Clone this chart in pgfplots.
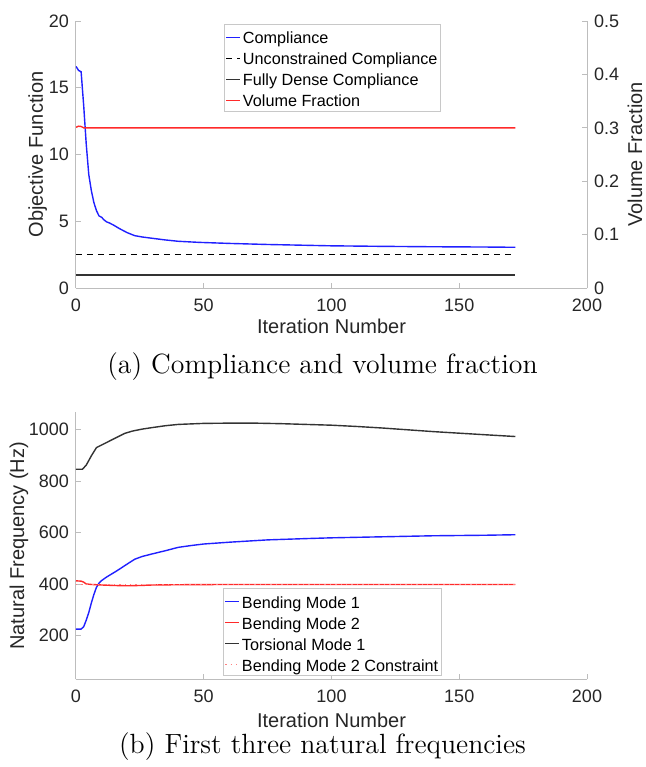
\documentclass[border=0pt]{standalone}
\usepackage{pgfplots}
\pgfplotsset{compat=1.18}
\usepackage{fontspec}
\newfontfamily\arial{Liberation Sans}
\definecolor{axgray}{HTML}{BDBDBD}
\definecolor{tickc}{HTML}{262626}
\definecolor{legc}{HTML}{C8C8C8}
\definecolor{dk}{HTML}{333333}
\definecolor{myred}{HTML}{FF2A2A}
\definecolor{myblue}{HTML}{2020FF}
\definecolor{pink}{HTML}{FF8080}
\pgfplotsset{mat/.style={
  scale only axis, width=255.5pt, height=133.5pt,
  xmin=0, xmax=200, xtick={0,50,100,150,200},
  axis line style={draw=axgray, line width=0.5pt},
  tick style={draw=axgray, line width=0.5pt},
  major tick length=2.6pt,
  tick align=inside,
  /pgf/number format/assume math mode=true,
  /pgf/number format/1000 sep={},
  tick label style={font=\arial\fontsize{9}{10}\selectfont, text=tickc},
  label style={font=\arial\fontsize{10}{12}\selectfont, text=tickc},
  xticklabel style={anchor=center, yshift=-8.5pt},
  axis x line*=bottom, axis y line*=left,
  legend cell align=left,
  legend image code/.code={%
    \path[draw=white, line width=0.1pt] (0pt,0pt) -- (0.05pt,0pt);
    \draw[#1] (0pt,0pt) -- (7pt,0pt);},
  legend style={font=\arial\fontsize{8.1}{10}\selectfont, draw=legc,
    inner xsep=0.5pt, inner ysep=0.3pt, row sep=0pt,
    nodes={inner xsep=1pt, inner ysep=0pt, text height=8.5pt, text depth=2pt}},
}}
\begin{document}
\begin{tikzpicture}
\path[use as bounding box] (0pt,0pt) rectangle (323pt,-383.5pt);
% ---------- (a) ----------
\begin{axis}[mat, at={(38pt,-144pt)}, anchor=south west,
  ymin=0, ymax=20, ytick={0,5,10,15,20},
  xlabel={Iteration Number}, ylabel={Objective Function},
  xlabel style={at={(axis description cs:0.5,-0.1423)}, anchor=center},
  ylabel style={at={(axis description cs:-0.0751,0.5)}, anchor=center, rotate=0},
  legend style={at={(0.290,0.989)}, anchor=north west}]
\addlegendimage{empty legend}
\addlegendentry[text height=0pt, text depth=0pt, inner sep=0pt]{}
\addplot[draw=myblue, line width=0.7pt] coordinates {
(0,16.6) (1,16.3) (2,16.2) (3,13.7) (4,10.8) (5,8.5) (6,7.3) (7,6.4) (8,5.8) (9,5.4)
(10,5.3) (11,5.1) (12,4.95) (13,4.88) (15,4.68) (17,4.45) (20,4.15) (23,3.92) (26,3.82)
(30,3.72) (35,3.6) (40,3.5) (48,3.42) (60,3.34) (75,3.26) (90,3.2) (100,3.16) (120,3.12)
(140,3.09) (160,3.07) (172,3.05)};
\addlegendentry{Compliance}
\addplot[draw=black, line width=0.6pt, dash pattern=on 3pt off 2.5pt] coordinates {(0,2.52) (172,2.52)};
\addlegendentry{Unconstrained Compliance}
\addplot[draw=dk, line width=0.7pt] coordinates {(0,0.98) (172,0.98)};
\addlegendentry{Fully Dense Compliance}
\addlegendimage{draw=myred, line width=0.7pt}
\addlegendentry{Volume Fraction}
\end{axis}
\begin{axis}[mat, at={(38pt,-144pt)}, anchor=south west,
  axis x line=none, axis y line*=right,
  ymin=0, ymax=0.5, ytick={0,0.1,0.2,0.3,0.4,0.5},
  ylabel={Volume Fraction},
  ylabel style={at={(axis description cs:1.0939,0.5)}, anchor=center, rotate=0}]
\addplot[draw=myred, line width=0.7pt] coordinates {
(0,0.301) (0.5,0.302) (1,0.303) (2,0.3025) (3,0.3) (10,0.3) (50,0.3) (100,0.3) (150,0.3) (172,0.3)};
\end{axis}
\node[font=\fontsize{13.9}{16}\selectfont, anchor=base] at (161.25pt,-186.5pt) {(a) Compliance and volume fraction};
% ---------- (b) ----------
\begin{axis}[mat, at={(38pt,-339.65pt)}, anchor=south west,
  ymin=31, ymax=1067, ytick={200,400,600,800,1000},
  xlabel={Iteration Number}, ylabel={Natural Frequency (Hz)},
  xlabel style={at={(axis description cs:0.5,-0.1536)}, anchor=center},
  ylabel style={at={(axis description cs:-0.1115,0.5)}, anchor=center, rotate=0},
  legend style={at={(0.288,0.012)}, anchor=south west}]
\addlegendimage{empty legend}
\addlegendentry[text height=0pt, text depth=0pt, inner sep=0pt]{}
\addplot[draw=myblue, line width=0.7pt] coordinates {
(0,226) (2,226) (3,235) (4,260) (5,290) (6,327) (7,360) (8,388) (9,404) (10,414) (12,428)
(14,440) (16,452) (18,465) (20,478) (23,497) (26,508) (30,518) (35,530) (40,543) (45,550)
(50,556) (60,563) (75,572) (90,577) (100,580) (120,584) (140,588) (160,590) (172,592)};
\addlegendentry{Bending Mode 1}
\addplot[draw=myred, line width=0.7pt] coordinates {
(0,413) (2,412) (3,408) (4,401) (6,399) (10,397) (15,395) (20,394) (25,395) (30,397)
(40,398) (60,399) (100,399) (172,399)};
\addlegendentry{Bending Mode 2}
\addplot[draw=dk, line width=0.7pt] coordinates {
(0,846) (2.5,846) (4,862) (6,898) (8,930) (10,940) (13,955) (16,970) (19,985) (22,994)
(26,1002) (30,1008) (35,1015) (40,1020) (50,1024) (60,1025) (70,1025) (80,1023) (90,1020)
(100,1017) (110,1012) (120,1006) (130,999) (140,992) (150,986) (160,980) (172,973)};
\addlegendentry{Torsional Mode 1}
\addplot[draw=pink, dotted, line width=0.7pt] coordinates {(0,400) (172,400)};
\addlegendentry{Bending Mode 2 Constraint}
\end{axis}
\node[font=\fontsize{13.9}{16}\selectfont, anchor=base] at (161.25pt,-376.7pt) {(b) First three natural frequencies};
\end{tikzpicture}
\end{document}
